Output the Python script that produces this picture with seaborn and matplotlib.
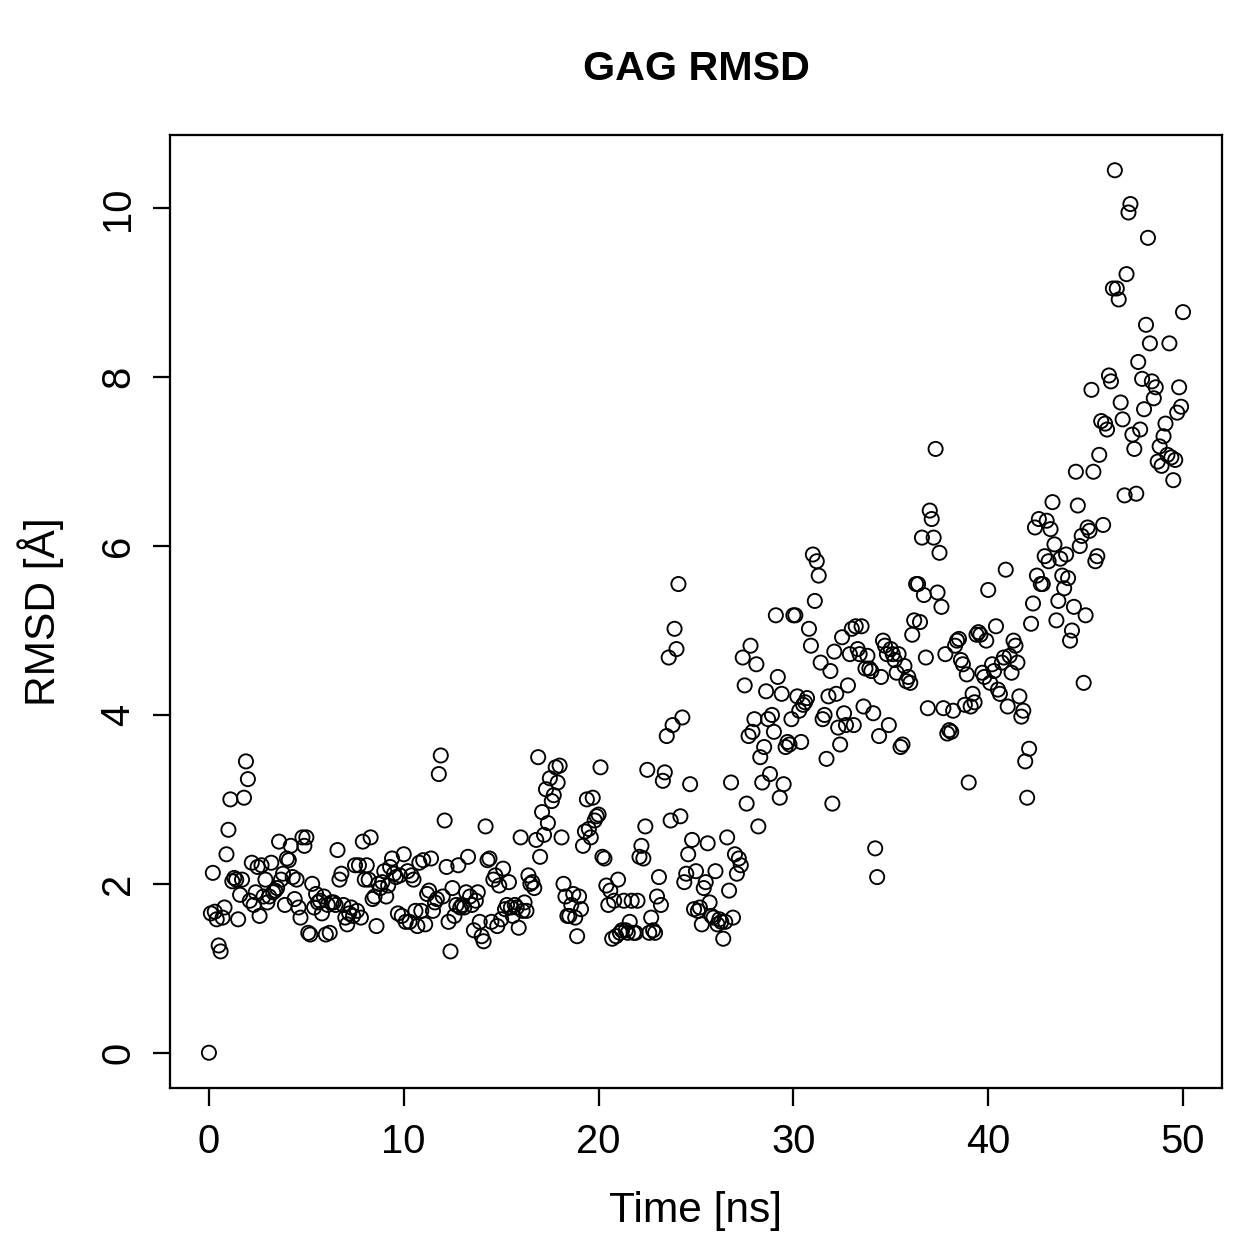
import numpy as np
import pandas as pd
import seaborn as sns
import matplotlib
matplotlib.use("Agg")
import matplotlib.pyplot as plt

# RMSD samples, 10 per ns (0.0 .. 50.0 ns)
rmsd = [
    0.00, 1.65, 2.13, 1.67, 1.58, 1.27, 1.20, 1.60, 1.72, 2.35,
    2.64, 3.00, 2.03, 2.07, 2.05, 1.58, 1.87, 2.05, 3.02, 3.45,
    3.24, 1.80, 2.25, 1.75, 1.90, 2.20, 1.62, 2.22, 1.85, 2.05,
    1.78, 1.85, 2.25, 1.90, 1.92, 1.95, 2.50, 2.05, 2.12, 1.75,
    2.30, 2.28, 2.45, 2.08, 1.82, 2.05, 1.72, 1.60, 2.55, 2.45,
    2.55, 1.42, 1.40, 2.00, 1.72, 1.88, 1.78, 1.80, 1.65, 1.85,
    1.40, 1.75, 1.42, 1.78, 1.78, 1.75, 2.40, 2.05, 2.12, 1.75,
    1.60, 1.52, 1.65, 1.72, 1.62, 2.22, 1.68, 2.22, 1.60, 2.50,
    2.05, 2.22, 2.05, 2.55, 1.82, 1.85, 1.50, 2.00, 1.95, 2.02,
    2.15, 1.85, 1.98, 2.20, 2.30, 2.12, 2.08, 1.65, 2.10, 1.62,
    2.35, 1.55, 2.15, 1.55, 2.10, 2.05, 1.68, 1.50, 2.25, 1.68,
    2.28, 1.52, 1.88, 1.92, 2.30, 1.68, 1.78, 1.82, 3.30, 3.52,
    1.85, 2.75, 2.20, 1.55, 1.20, 1.95, 1.62, 1.75, 2.22, 1.72,
    1.75, 1.72, 1.90, 2.32, 1.85, 1.75, 1.45, 1.80, 1.90, 1.55,
    1.38, 1.32, 2.68, 2.28, 2.30, 1.55, 2.05, 2.10, 1.50, 1.98,
    1.58, 2.18, 1.70, 1.75, 2.02, 1.72, 1.62, 1.75, 1.72, 1.48,
    2.55, 1.68, 1.78, 1.68, 2.10, 2.00, 2.02, 1.95, 2.52, 3.50,
    2.32, 2.85, 2.58, 3.12, 2.72, 3.25, 2.98, 3.05, 3.38, 3.20,
    3.40, 2.55, 2.00, 1.85, 1.62, 1.62, 1.75, 1.88, 1.60, 1.38,
    1.85, 1.70, 2.45, 2.62, 3.00, 2.65, 2.55, 3.02, 2.75, 2.80,
    2.82, 3.38, 2.32, 2.30, 1.98, 1.75, 1.92, 1.35, 1.80, 1.38,
    2.05, 1.42, 1.45, 1.80, 1.45, 1.42, 1.55, 1.80, 1.42, 1.42,
    1.80, 2.32, 2.45, 2.30, 2.68, 3.35, 1.42, 1.60, 1.45, 1.42,
    1.85, 2.08, 1.75, 3.22, 3.32, 3.75, 4.68, 2.75, 3.88, 5.02,
    4.78, 5.55, 2.80, 3.97, 2.02, 2.12, 2.35, 3.18, 2.52, 1.70,
    2.15, 1.68, 1.72, 1.52, 1.95, 2.02, 2.48, 1.78, 1.62, 1.60,
    2.15, 1.52, 1.58, 1.55, 1.35, 1.55, 2.55, 1.92, 3.20, 1.60,
    2.35, 2.12, 2.30, 2.22, 4.68, 4.35, 2.95, 3.75, 4.82, 3.80,
    3.95, 4.60, 2.68, 3.50, 3.20, 3.62, 4.28, 3.95, 3.30, 4.00,
    3.80, 5.18, 4.45, 3.02, 4.25, 3.18, 3.62, 3.68, 3.65, 3.95,
    5.18, 5.18, 4.22, 4.05, 3.68, 4.12, 4.15, 4.20, 5.02, 4.82,
    5.90, 5.35, 5.82, 5.65, 4.62, 3.95, 4.00, 3.48, 4.22, 4.52,
    2.95, 4.75, 4.25, 3.85, 3.65, 4.92, 4.02, 3.88, 4.35, 4.72,
    5.02, 3.88, 5.05, 4.78, 4.72, 5.05, 4.10, 4.55, 4.70, 4.55,
    4.52, 4.02, 2.42, 2.08, 3.75, 4.45, 4.88, 4.82, 4.72, 3.88,
    4.78, 4.72, 4.65, 4.50, 4.72, 3.62, 3.65, 4.58, 4.40, 4.45,
    4.38, 4.95, 5.12, 5.55, 5.55, 5.10, 6.10, 5.42, 4.68, 4.08,
    6.42, 6.32, 6.10, 7.15, 5.45, 5.92, 5.28, 4.08, 4.72, 3.78,
    3.82, 3.80, 4.05, 4.82, 4.88, 4.90, 4.65, 4.60, 4.12, 4.48,
    3.20, 4.10, 4.25, 4.15, 4.95, 4.98, 4.95, 4.50, 4.45, 4.88,
    5.48, 4.38, 4.60, 4.52, 5.05, 4.30, 4.25, 4.62, 4.68, 5.72,
    4.10, 4.70, 4.50, 4.88, 4.82, 4.62, 4.22, 3.98, 4.05, 3.45,
    3.02, 3.60, 5.08, 5.32, 6.22, 5.65, 6.32, 5.55, 5.55, 5.88,
    6.30, 5.82, 6.20, 6.52, 6.02, 5.12, 5.35, 5.85, 5.65, 5.50,
    5.90, 5.62, 4.88, 5.00, 5.28, 6.88, 6.48, 6.00, 6.12, 4.38,
    5.18, 6.22, 6.18, 7.85, 6.88, 5.82, 5.88, 7.08, 7.48, 6.25,
    7.45, 7.38, 8.02, 7.95, 9.05, 10.45, 9.05, 8.92, 7.70, 7.50,
    6.60, 9.22, 9.95, 10.05, 7.32, 7.15, 6.62, 8.18, 7.38, 7.98,
    7.62, 8.62, 9.65, 8.40, 7.95, 7.75, 7.88, 7.00, 7.18, 6.95,
    7.30, 7.45, 7.08, 8.40, 7.05, 6.78, 7.02, 7.58, 7.88, 7.65,
    8.77,
]
time_ns = np.round(np.arange(len(rmsd)) * 50.0 / (len(rmsd) - 1), 3)

df = pd.DataFrame({"time": time_ns, "rmsd": rmsd})

sns.set_style("ticks")
plt.rcParams["font.family"] = ["Liberation Sans", "DejaVu Sans"]
plt.rcParams["text.color"] = "black"
plt.rcParams["axes.labelcolor"] = "black"
plt.rcParams["xtick.color"] = "black"
plt.rcParams["ytick.color"] = "black"

fig = plt.figure(figsize=(1259 / 180, 1259 / 180), dpi=180)
ax = fig.add_axes([0.135, 0.1358, 0.8356, 0.757])

sns.scatterplot(data=df, x="time", y="rmsd", ax=ax, marker="o", s=32,
                facecolor="none", edgecolor="black", linewidth=0.75)

# R-style 4% padding
xr = df.time.max() - df.time.min()
yr = df.rmsd.max() - df.rmsd.min()
ax.set_xlim(df.time.min() - 0.04 * xr, df.time.max() + 0.04 * xr)
ax.set_ylim(df.rmsd.min() - 0.04 * yr, df.rmsd.max() + 0.04 * yr)

ax.set_xticks([0, 10, 20, 30, 40, 50])
ax.set_yticks([0, 2, 4, 6, 8, 10])
for sp in ax.spines.values():
    sp.set_visible(True)
    sp.set_linewidth(0.9)
    sp.set_color("black")
ax.tick_params(axis="both", direction="out", length=7, width=0.9,
               labelsize=16, color="black", labelcolor="black")
ax.tick_params(axis="x", pad=7)
ax.tick_params(axis="y", pad=6)
for lab in ax.get_yticklabels():
    lab.set_rotation(90)
    lab.set_va("center")

ax.set_xlabel("Time [ns]", fontsize=17, labelpad=12, color="black")
ax.set_ylabel("RMSD [Å]", fontsize=17, labelpad=14, color="black")
ax.set_title("GAG RMSD", fontsize=16.5, fontweight="bold", pad=22,
             color="black")

fig.savefig("out.png", dpi=180)
